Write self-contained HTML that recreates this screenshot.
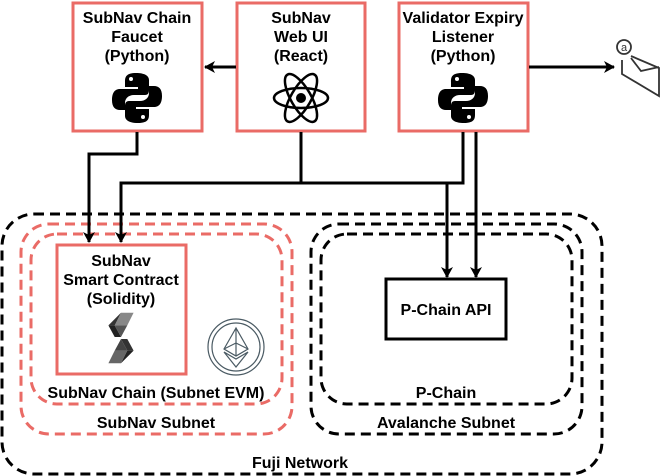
<!DOCTYPE html>
<html><head><style>
html,body{margin:0;padding:0;background:#fff;}
svg{display:block;font-family:"Liberation Sans",Arial,sans-serif;font-weight:bold;}
</style></head><body>
<svg width="660" height="476" viewBox="0 0 660 476" xmlns="http://www.w3.org/2000/svg">
<defs>
<marker id="ar" markerWidth="12" markerHeight="12" refX="10" refY="6" orient="auto" markerUnits="userSpaceOnUse">
<path d="M0,0 L11,6 L0,12 L3,6 Z" fill="#000"/>
</marker>
<g id="py">
<path d="M-1,-25 C-12,-25 -12,-20 -12,-16 L-12,-11 L1,-11 L1,-9 L-17,-9 C-23,-9 -25,-4 -25,2 C-25,9 -22,12 -17,12 L-12,12 L-12,5 C-12,0 -8,-3 -3,-3 L8,-3 C11,-3 12,-5 12,-8 L12,-18 C12,-22 8,-25 -1,-25 Z" fill="#000"/>
<path d="M1,25 C12,25 12,20 12,16 L12,11 L-1,11 L-1,9 L17,9 C23,9 25,4 25,-2 C25,-9 22,-12 17,-12 L12,-12 L12,-5 C12,0 8,3 3,3 L-8,3 C-11,3 -12,5 -12,8 L-12,18 C-12,22 -8,25 1,25 Z" fill="#000"/>
<circle cx="-6" cy="-19" r="2" fill="#fff"/><circle cx="6" cy="19" r="2" fill="#fff"/>
</g>
</defs>

<rect x="2" y="214" width="600" height="260" rx="32" fill="none" stroke="#000" stroke-width="3" stroke-dasharray="10 6"/>
<rect x="21" y="224" width="271" height="210" rx="28" fill="none" stroke="#ea6b66" stroke-width="3" stroke-dasharray="10 6"/>
<rect x="31" y="234" width="251" height="170" rx="26" fill="none" stroke="#ea6b66" stroke-width="3" stroke-dasharray="10 6"/>
<rect x="311" y="224" width="271" height="210" rx="28" fill="none" stroke="#000" stroke-width="3" stroke-dasharray="10 6"/>
<rect x="321" y="234" width="251" height="170" rx="26" fill="none" stroke="#000" stroke-width="3" stroke-dasharray="10 6"/>

<rect x="73" y="3" width="129" height="128" fill="#fff" stroke="#ea6b66" stroke-width="3"/>
<rect x="237" y="3" width="128" height="128" fill="#fff" stroke="#ea6b66" stroke-width="3"/>
<rect x="399" y="3" width="129" height="128" fill="#fff" stroke="#ea6b66" stroke-width="3"/>
<rect x="57" y="245" width="129" height="129" fill="#fff" stroke="#ea6b66" stroke-width="3"/>
<rect x="386" y="279" width="120" height="60" fill="#fff" stroke="#000" stroke-width="3"/>

<g fill="none" stroke="#000" stroke-width="3">
<path d="M236,67 H205" marker-end="url(#ar)"/>
<path d="M137,132 V154 H89 V242" marker-end="url(#ar)"/>
<path d="M301,132 V183"/>
<path d="M463,132 V183 H121 V242" marker-end="url(#ar)"/>
<path d="M447,183 V277" marker-end="url(#ar)"/>
<path d="M476,132 V277" marker-end="url(#ar)"/>
<path d="M529,67 H614" marker-end="url(#ar)"/>
</g>

<g font-size="16" text-anchor="middle" fill="#000">
<text x="137" y="23">SubNav Chain</text><text x="137" y="42">Faucet</text><text x="137" y="61">(Python)</text>
<text x="301" y="23">SubNav</text><text x="301" y="42">Web UI</text><text x="301" y="61">(React)</text>
<text x="463" y="23">Validator Expiry</text><text x="463" y="42">Listener</text><text x="463" y="61">(Python)</text>
<text x="121" y="266">SubNav</text><text x="121" y="285">Smart Contract</text><text x="121" y="304">(Solidity)</text>
<text x="446" y="315">P-Chain API</text>
<text x="156" y="398">SubNav Chain (Subnet EVM)</text>
<text x="156" y="428">SubNav Subnet</text>
<text x="446" y="398">P-Chain</text>
<text x="446" y="428">Avalanche Subnet</text>
<text x="300" y="468">Fuji Network</text>
</g>

<use href="#py" transform="translate(137,98)"/>
<use href="#py" transform="translate(463,98)"/>

<g transform="translate(301,98)" fill="none" stroke="#000" stroke-width="2.5">
<ellipse rx="27" ry="10"/>
<ellipse rx="27" ry="10" transform="rotate(60)"/>
<ellipse rx="27" ry="10" transform="rotate(-60)"/>
<circle r="5" fill="#000" stroke="none"/>
</g>

<g transform="translate(121,338) scale(1.05)">
<path d="M-6,-12 L0,-24 L12,-24 L6,-12 Z" fill="#888"/>
<path d="M-6,-12 L0,-24 L-12,-12 Z" fill="#333"/>
<path d="M-12,-12 L-6,-12 L0,-1 L-6,-1 Z" fill="#222"/>
<path d="M-6,-12 L6,-12 L0,-1 Z" fill="#555"/>
<path d="M6,12 L0,24 L-12,24 L-6,12 Z" fill="#666"/>
<path d="M6,12 L0,24 L12,12 Z" fill="#222"/>
<path d="M12,12 L6,12 L0,1 L6,1 Z" fill="#333"/>
<path d="M6,12 L-6,12 L0,1 Z" fill="#444"/>
</g>

<g transform="translate(236,347)" fill="none" stroke="#4a5a63" stroke-width="1.2">
<circle r="28"/><circle r="24"/>
<path d="M0,-19 L-12,2 L0,9 L12,2 Z M0,-19 V9 M-12,2 L0,-4 L12,2 M-12,5 L0,20 L12,5 L0,12 Z"/>
</g>

<g fill="none" stroke="#333" stroke-width="1.8">
<path d="M622,60 L622,74 L659,96 L659,68 L631,56"/>
<path d="M631,58 L641,71 L659,67"/>
<circle cx="624" cy="47" r="7" fill="#fff"/>
<text x="624" y="51" font-size="11" text-anchor="middle" fill="#333" stroke="none" font-weight="normal">a</text>
</g>
</svg>
</body></html>
